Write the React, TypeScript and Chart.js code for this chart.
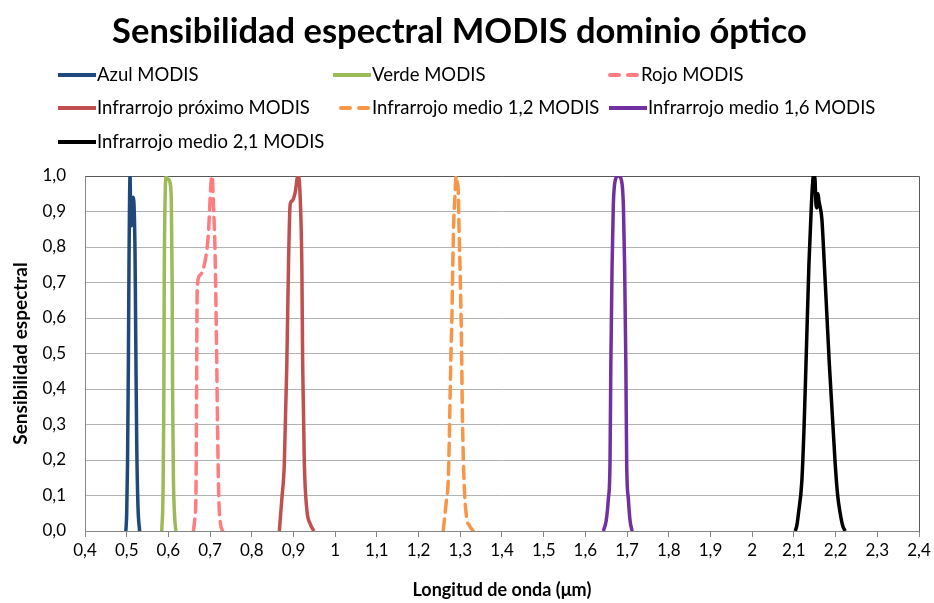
import React, { useEffect, useRef } from 'react';
import { Chart, registerables } from 'chart.js';

Chart.register(...registerables);

// ---------- DATA ----------
const chartTitle = 'Sensibilidad espectral MODIS dominio óptico';
const xAxisTitle = 'Longitud de onda (μm)';
const yAxisTitle = 'Sensibilidad espectral';

const xTickLabels = ['0,4', '0,5', '0,6', '0,7', '0,8', '0,9', '1', '1,1', '1,2', '1,3', '1,4', '1,5', '1,6', '1,7', '1,8', '1,9', '2', '2,1', '2,2', '2,3', '2,4'];
const yTickLabels = ['0,0', '0,1', '0,2', '0,3', '0,4', '0,5', '0,6', '0,7', '0,8', '0,9', '1,0'];

const seriesNames = [
  'Azul MODIS',
  'Verde MODIS',
  'Rojo MODIS',
  'Infrarrojo próximo MODIS',
  'Infrarrojo medio 1,2 MODIS',
  'Infrarrojo medio 1,6 MODIS',
  'Infrarrojo medio 2,1 MODIS',
];

const azulX = [0.498, 0.5, 0.502, 0.504, 0.5055, 0.508, 0.51, 0.512, 0.515, 0.517, 0.52, 0.522, 0.524, 0.527, 0.531];
const azulY = [0, 0.05, 0.19, 0.47, 0.75, 1.0, 0.86, 0.86, 0.94, 0.93, 0.78, 0.5, 0.25, 0.07, 0];

const verdeX = [0.584, 0.587, 0.589, 0.59, 0.592, 0.595, 0.598, 0.601, 0.604, 0.607, 0.609, 0.61, 0.612, 0.615, 0.618];
const verdeY = [0, 0.1, 0.35, 0.7, 0.93, 1.0, 0.99, 0.99, 0.98, 0.93, 0.7, 0.4, 0.15, 0.04, 0];

const rojoX = [0.66, 0.663, 0.666, 0.667, 0.668, 0.669, 0.675, 0.684, 0.692, 0.696, 0.699, 0.702, 0.705, 0.708, 0.712, 0.714, 0.716, 0.718, 0.721, 0.725, 0.73];
const rojoY = [0, 0.03, 0.1, 0.25, 0.5, 0.68, 0.72, 0.74, 0.79, 0.84, 0.91, 0.98, 1.0, 0.92, 0.78, 0.64, 0.47, 0.28, 0.09, 0.02, 0];

const proximoX = [0.866, 0.872, 0.878, 0.884, 0.888, 0.892, 0.897, 0.901, 0.905, 0.909, 0.912, 0.916, 0.92, 0.922, 0.926, 0.932, 0.94, 0.949];
const proximoY = [0, 0.09, 0.19, 0.47, 0.75, 0.92, 0.93, 0.94, 0.96, 0.995, 1.0, 0.94, 0.75, 0.47, 0.19, 0.06, 0.02, 0];

const medio12X = [1.259, 1.267, 1.271, 1.274, 1.277, 1.28, 1.282, 1.284, 1.287, 1.29, 1.293, 1.295, 1.297, 1.3, 1.303, 1.305, 1.309, 1.315, 1.322, 1.331];
const medio12Y = [0, 0.09, 0.14, 0.28, 0.47, 0.61, 0.75, 0.86, 0.94, 1.0, 0.98, 0.96, 0.85, 0.71, 0.52, 0.33, 0.14, 0.04, 0.015, 0];

const medio16X = [1.643, 1.65, 1.655, 1.659, 1.661, 1.664, 1.667, 1.672, 1.679, 1.686, 1.691, 1.694, 1.697, 1.699, 1.703, 1.707, 1.712];
const medio16Y = [0, 0.03, 0.09, 0.19, 0.47, 0.75, 0.92, 0.99, 1.0, 0.99, 0.92, 0.75, 0.47, 0.19, 0.09, 0.03, 0];

const medio21X = [2.103, 2.107, 2.111, 2.119, 2.124, 2.129, 2.136, 2.142, 2.147, 2.15, 2.153, 2.155, 2.158, 2.16, 2.167, 2.173, 2.179, 2.185, 2.192, 2.199, 2.205, 2.211, 2.217, 2.223];
const medio21Y = [0, 0.015, 0.05, 0.14, 0.28, 0.47, 0.75, 0.92, 1.0, 1.0, 0.92, 0.91, 0.95, 0.93, 0.88, 0.75, 0.61, 0.47, 0.33, 0.19, 0.1, 0.05, 0.015, 0];

const seriesX = [azulX, verdeX, rojoX, proximoX, medio12X, medio16X, medio21X];
const seriesY = [azulY, verdeY, rojoY, proximoY, medio12Y, medio16Y, medio21Y];

const seriesColors = ['#1F497D', '#9BBB59', '#FF7C80', '#C0504D', '#F79646', '#7030A0', '#000000'];
const seriesDashed = [false, false, true, false, true, false, false];

// ---------- LAYOUT (positions / styles) ----------
const FONT = 'Lato, "Open Sans", sans-serif';
const legendSlots = [
  { x: 58, y: 75 },
  { x: 333, y: 75 },
  { x: 602, y: 75 },
  { x: 58, y: 108 },
  { x: 333, y: 108 },
  { x: 609, y: 108 },
  { x: 58, y: 142 },
];

const customLegend = {
  id: 'customLegend',
  afterDraw(chart: any) {
    const ctx = chart.ctx;
    ctx.save();
    ctx.font = `18.5px ${FONT}`;
    ctx.textBaseline = 'middle';
    ctx.textAlign = 'left';
    chart.data.datasets.forEach((ds: any, i: number) => {
      const slot = legendSlots[i];
      if (!slot) return;
      const dashed = ds.borderDash && ds.borderDash.length;
      ctx.beginPath();
      ctx.lineWidth = 4;
      ctx.strokeStyle = ds.borderColor;
      ctx.lineCap = dashed ? 'round' : 'butt';
      ctx.setLineDash(dashed ? [9, 9] : []);
      ctx.moveTo(slot.x + (dashed ? 8 : 0), slot.y);
      ctx.lineTo(slot.x + 38, slot.y);
      ctx.stroke();
      ctx.setLineDash([]);
      ctx.fillStyle = '#000';
      ctx.fillText(ds.label, slot.x + 39, slot.y);
    });
    ctx.restore();
  },
};

const plotFrame = {
  id: 'plotFrame',
  beforeDatasetsDraw(chart: any) {
    const { ctx, chartArea } = chart;
    ctx.save();
    ctx.strokeStyle = '#595959';
    ctx.lineWidth = 1;
    ctx.beginPath();
    ctx.moveTo(Math.round(chartArea.left) + 0.5, Math.round(chartArea.top) + 0.5);
    ctx.lineTo(Math.round(chartArea.right) + 0.5, Math.round(chartArea.top) + 0.5);
    ctx.lineTo(Math.round(chartArea.right) + 0.5, Math.round(chartArea.bottom) + 0.5);
    ctx.stroke();
    ctx.restore();
  },
};

export default function App() {
  const canvasRef = useRef<HTMLCanvasElement | null>(null);

  useEffect(() => {
    if (!canvasRef.current) return;
    const datasets = seriesNames.map((name, i) => ({
      label: name,
      data: seriesX[i].map((x, j) => ({ x, y: seriesY[i][j] })),
      borderColor: seriesColors[i],
      backgroundColor: seriesColors[i],
      borderWidth: 3.5,
      borderDash: seriesDashed[i] ? [12, 7] : [],
      borderCapStyle: seriesDashed[i] ? 'round' : 'butt',
      borderJoinStyle: 'round',
      pointRadius: 0,
      pointHoverRadius: 0,
      showLine: true,
      fill: false,
      cubicInterpolationMode: 'monotone',
    }));

    const chart = new Chart(canvasRef.current, {
      type: 'scatter',
      data: { datasets } as any,
      plugins: [plotFrame, customLegend],
      options: {
        animation: false,
        responsive: false,
        devicePixelRatio: 1,
        layout: { padding: { left: 0, right: 15, top: 0, bottom: 0 } },
        plugins: {
          legend: { display: false },
          tooltip: { enabled: false },
          title: {
            display: true,
            text: chartTitle,
            color: '#000',
            font: { family: FONT, size: 34.5, weight: 'bold' },
            padding: { top: 11, bottom: 123.6 },
          },
        },
        scales: {
          x: {
            type: 'linear',
            min: 0.4,
            max: 2.4,
            afterFit: (s: any) => { s.height = 72; },
            ticks: {
              stepSize: 0.1,
              autoSkip: false,
              maxRotation: 0,
              padding: 3,
              color: '#000',
              font: { family: FONT, size: 17 },
              callback: (_v: any, idx: number) => xTickLabels[idx],
            },
            grid: {
              drawOnChartArea: false,
              drawTicks: true,
              tickLength: 6,
              color: '#868686',
            },
            border: { color: '#868686', width: 1 },
            title: {
              display: true,
              text: xAxisTitle,
              color: '#000',
              font: { family: FONT, size: 18, weight: 'bold' },
              padding: { top: 2, bottom: 2 },
            },
          },
          y: {
            type: 'linear',
            min: 0,
            max: 1,
            afterFit: (s: any) => { s.width = 85; },
            ticks: {
              stepSize: 0.1,
              padding: 19,
              color: '#000',
              font: { family: FONT, size: 17 },
              callback: (_v: any, idx: number) => yTickLabels[idx],
            },
            grid: {
              drawTicks: false,
              color: '#b3b3b3',
            },
            border: { color: '#868686', width: 1 },
            title: {
              display: true,
              text: yAxisTitle,
              color: '#000',
              font: { family: FONT, size: 19, weight: 'bold' },
              padding: { top: 9, bottom: 0 },
            },
          },
        },
      } as any,
    });
    return () => chart.destroy();
  }, []);

  return (
    <div style={{ position: 'fixed', left: 0, top: 0, width: 934, height: 603, background: '#fff' }}>
      <canvas ref={canvasRef} width={934} height={603} style={{ width: 934, height: 603, display: 'block' }} />
    </div>
  );
}
